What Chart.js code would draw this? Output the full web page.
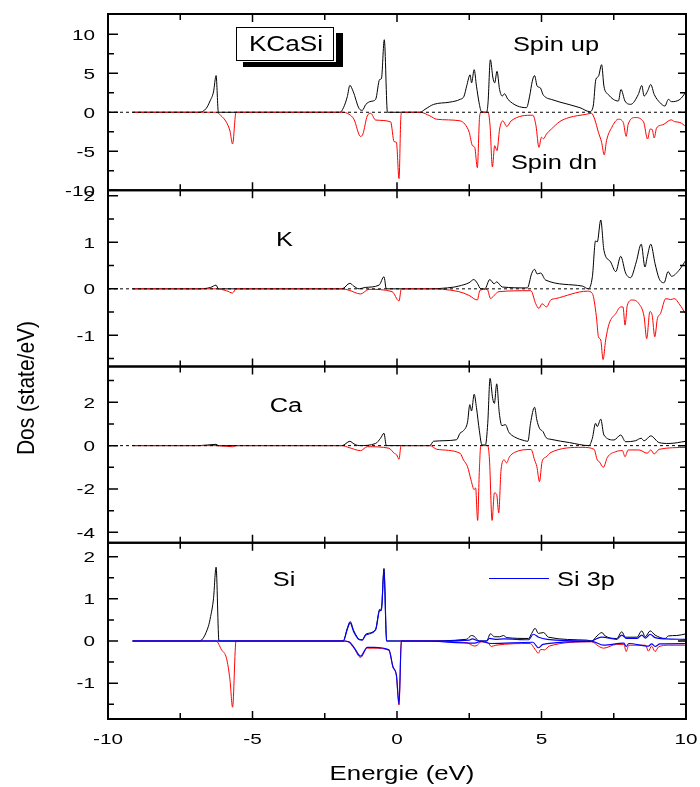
<!DOCTYPE html>
<html>
<head>
<meta charset="utf-8">
<title>KCaSi DOS</title>
<script src="https://cdn.jsdelivr.net/npm/chart.js@4.4.1/dist/chart.umd.min.js"></script>
<style>
  html, body { margin: 0; padding: 0; background: #fff; }
  #wrap { width: 700px; height: 787px; }
</style>
</head>
<body>
<div id="wrap"><canvas id="dos" width="700" height="787"></canvas></div>
<script>
// energy axis
const energyRange = [-10, 10];
const xMajorTicks = [-10, -5, 0, 5, 10];
const xMinorTicks = [-7.5, -2.5, 2.5, 7.5];

// y ranges and ticks per panel
const totalRange = [-10, 12.6];
const totalMajor = [-10, -5, 0, 5, 10];
const totalMinor = [-7.5, -2.5, 2.5, 7.5];
const kRange = [-1.67, 2.12];
const kMajor = [-1, 0, 1, 2];
const kMinor = [-1.5, -0.5, 0.5, 1.5];
const caRange = [-4.48, 3.65];
const caMajor = [-4, -2, 0, 2];
const caMinor = [-3, -1, 1, 3];
const siRange = [-1.85, 2.33];
const siMajor = [-1, 0, 1, 2];
const siMinor = [-1.5, -0.5, 0.5, 1.5];

// [energy (eV), DOS] pairs
const totalUp = [
  [-9.15, 0], [-6.84, 0], [-6.6, 0.5], [-6.47, 1.44], [-6.35, 2.6], [-6.26, 4.7], [-6.18, 0],
  [-1.97, 0], [-1.85, 0.6], [-1.72, 2.0], [-1.63, 3.45], [-1.52, 2.7], [-1.31, 0.47], [-1.2, 0.25],
  [-1.08, 1.0], [-0.9, 1.4], [-0.74, 1.65], [-0.6, 4.2], [-0.54, 4.3], [-0.44, 9.3], [-0.33, 0],
  [0.8, 0], [0.97, 0.38], [1.26, 1.0], [1.83, 1.3], [2.18, 1.65], [2.32, 2.07], [2.41, 3.35],
  [2.53, 4.8], [2.58, 3.77], [2.67, 5.46], [2.75, 3.35], [2.84, 1.23], [2.92, 0.08], [3.1, 0],
  [3.15, 1.23], [3.23, 6.73], [3.32, 4.4], [3.38, 3.77], [3.46, 5.25], [3.55, 2.92], [3.64, 2.07],
  [3.72, 2.37], [3.84, 1.65], [4.48, 0.59], [4.59, 2.07], [4.68, 3.98], [4.76, 4.7], [4.85, 3.35],
  [4.96, 3.13], [5.05, 2.29], [5.17, 1.86], [5.34, 1.65], [5.64, 1.3], [6.33, 0.59], [6.67, 0.08],
  [6.79, 0.8], [6.88, 4.2], [6.97, 4.6], [7.08, 6.1], [7.16, 3.35], [7.31, 2.29], [7.66, 1.44],
  [7.75, 2.92], [7.89, 1.44], [8.09, 1.02], [8.35, 2.29], [8.47, 3.43], [8.55, 2.07], [8.67, 2.71],
  [8.78, 3.56], [8.9, 2.29], [9.1, 1.23], [9.27, 0.8], [9.39, 1.65], [9.5, 1.36], [9.79, 1.65],
  [10, 2.6]
];
const totalDn = [
  [-9.15, 0], [-6.26, 0], [-6.1, -0.4], [-5.9, -1.3], [-5.78, -2.4], [-5.69, -4.07], [-5.57, 0],
  [-1.9, 0], [-1.66, -0.25], [-1.49, -0.9], [-1.26, -3.1], [-1.18, -2.8], [-1.03, -0.47],
  [-0.91, -0.13], [-0.74, -1.0], [-0.22, -1.23], [-0.1, -3.77], [-0.02, -3.86], [0.07, -8.5],
  [0.13, -0.9], [0.16, 0],
  [0.8, 0], [1.14, -0.47], [1.37, -0.89], [2.18, -1.1], [2.35, -1.53], [2.5, -2.58], [2.61, -4.28],
  [2.69, -4.5], [2.78, -7.1], [2.86, -0.47], [2.92, 0], [3.15, 0], [3.22, -1.74], [3.3, -7.0],
  [3.38, -4.28], [3.46, -4.92], [3.55, -2.16], [3.66, -1.1], [3.8, -1.82], [3.95, -1.1],
  [4.7, -0.38], [4.81, -1.74], [4.91, -4.5], [5.0, -3.2], [5.07, -3.4], [5.17, -2.8], [5.34, -2.16],
  [5.63, -1.2], [5.95, -0.68], [6.56, -0.25], [6.73, -0.13], [6.84, -0.89], [6.97, -2.58],
  [7.08, -3.85], [7.17, -5.46], [7.25, -3.64], [7.43, -1.95], [7.66, -0.89], [7.83, -1.31],
  [7.93, -3.09], [8.0, -1.53], [8.24, -0.68], [8.53, -1.23], [8.67, -3.43], [8.76, -2.16],
  [8.83, -2.2], [8.9, -3.3], [8.98, -2.03], [9.2, -1.6], [9.49, -0.97], [9.6, -1.2], [9.79, -1.31],
  [10, -1.85]
];

const kUp = [
  [-9.15, 0], [-6.84, 0], [-6.45, 0.03], [-6.26, 0.08], [-6.18, 0],
  [-1.9, 0], [-1.63, 0.12], [-1.5, 0.06], [-1.31, 0], [-1.1, 0.03], [-0.62, 0.08], [-0.45, 0.26],
  [-0.37, 0],
  [1.0, 0], [2.0, 0.04], [2.14, 0.06], [2.49, 0.13], [2.66, 0.2], [2.78, 0.12], [2.9, 0], [3.04, 0],
  [3.21, 0.2], [3.36, 0.11], [3.45, 0.15], [3.64, 0.04], [4.51, 0.02], [4.66, 0.33], [4.76, 0.42],
  [4.85, 0.32], [4.97, 0.34], [5.14, 0.19], [6.41, 0.06], [6.62, 0], [6.76, 0.26], [6.87, 1.03],
  [6.93, 1.01], [7.05, 1.48], [7.16, 0.83], [7.39, 0.58], [7.57, 0.37], [7.74, 0.7], [7.91, 0.34],
  [8.08, 0.24], [8.28, 0.58], [8.45, 0.96], [8.58, 0.47], [8.66, 0.69], [8.78, 0.96], [8.93, 0.54],
  [9.07, 0.22], [9.24, 0.13], [9.38, 0.37], [9.5, 0.27], [9.76, 0.4], [10, 0.62]
];
const kDn = [
  [-9.15, 0], [-6.26, 0], [-5.9, -0.04], [-5.69, -0.09], [-5.57, 0],
  [-1.9, 0], [-1.66, -0.03], [-1.26, -0.11], [-0.97, -0.01], [-0.17, -0.06], [0.07, -0.26],
  [0.15, 0],
  [1.0, 0], [2.14, -0.06], [2.49, -0.14], [2.78, -0.24], [2.87, -0.03], [3.12, -0.01], [3.24, -0.21],
  [3.36, -0.14], [3.53, -0.06], [4.63, -0.04], [4.8, -0.32], [4.91, -0.42], [5.02, -0.32],
  [5.17, -0.39], [5.32, -0.24], [5.49, -0.21], [6.59, -0.05], [6.76, -0.1], [6.9, -0.6],
  [6.97, -1.03], [7.05, -1.1], [7.13, -1.52], [7.22, -1.1], [7.34, -0.75], [7.57, -0.53],
  [7.74, -0.39], [7.82, -0.39], [7.89, -0.78], [7.97, -0.35], [8.14, -0.24], [8.37, -0.32],
  [8.55, -0.6], [8.64, -1.07], [8.75, -0.49], [8.83, -0.57], [8.92, -1.03], [9.01, -0.64],
  [9.12, -0.53], [9.3, -0.21], [9.47, -0.23], [9.6, -0.21], [9.76, -0.32], [10, -0.55]
];

const caUp = [
  [-9.15, 0], [-6.84, 0], [-6.26, 0.06], [-6.18, 0],
  [-1.9, 0], [-1.63, 0.2], [-1.49, 0.08], [-1.31, 0], [-0.74, 0.1], [-0.57, 0.34], [-0.45, 0.57],
  [-0.37, 0],
  [1.14, 0], [1.26, 0.2], [2.06, 0.27], [2.18, 0.57], [2.3, 0.69], [2.44, 1.08], [2.52, 1.89],
  [2.58, 1.6], [2.67, 2.37], [2.75, 1.75], [2.85, 0.69], [2.94, 0.03], [3.06, 0.03], [3.14, 1.03],
  [3.22, 3.1], [3.31, 2.18], [3.37, 1.95], [3.45, 2.85], [3.54, 1.5], [3.63, 0.92], [3.75, 0.97],
  [3.87, 0.62], [4.07, 0.4], [4.41, 0.23], [4.53, 0.2], [4.62, 1.03], [4.76, 1.77], [4.84, 1.18],
  [4.93, 0.8], [5.05, 0.65], [5.16, 0.37], [5.33, 0.29], [5.97, 0.14], [6.64, 0], [6.76, 0.34],
  [6.87, 1.03], [6.93, 0.88], [7.05, 1.22], [7.16, 0.49], [7.51, 0.26], [7.74, 0.49], [7.91, 0.18],
  [8.26, 0.23], [8.45, 0.34], [8.55, 0.22], [8.78, 0.45], [9.07, 0.14], [9.41, 0.1], [10, 0.2]
];
const caDn = [
  [-9.15, 0], [-6.26, 0], [-5.69, -0.05], [-5.57, 0],
  [-1.9, 0], [-1.66, -0.09], [-1.26, -0.23], [-1.03, -0.05], [-0.28, -0.12], [-0.1, -0.35],
  [-0.01, -0.43], [0.07, -0.63], [0.13, -0.05], [0.16, 0],
  [1.14, 0], [1.38, -0.17], [2.18, -0.35], [2.3, -0.66], [2.44, -0.97], [2.56, -1.58],
  [2.67, -2.03], [2.72, -1.95], [2.79, -3.45], [2.85, -1.12], [2.9, 0], [3.14, 0], [3.2, -0.66],
  [3.29, -3.45], [3.37, -2.18], [3.45, -2.26], [3.52, -3.1], [3.6, -1.12], [3.71, -0.66],
  [3.79, -0.8], [3.89, -0.52], [4.07, -0.31], [4.64, -0.18], [4.76, -0.66], [4.84, -0.97],
  [4.93, -1.66], [5.02, -0.74], [5.16, -0.52], [5.33, -0.31], [6.41, -0.08], [6.82, -0.17],
  [6.93, -0.66], [7.0, -0.74], [7.14, -1.0], [7.28, -0.54], [7.57, -0.28], [7.8, -0.23],
  [7.89, -0.51], [8.0, -0.2], [8.37, -0.2], [8.66, -0.35], [8.78, -0.2], [8.9, -0.38],
  [9.07, -0.17], [10, -0.08]
];

const siUp = [
  [-9.15, 0], [-6.84, 0], [-6.53, 0.34], [-6.45, 0.58], [-6.35, 1.0], [-6.26, 1.75], [-6.16, 0],
  [-1.86, 0], [-1.72, 0.3], [-1.62, 0.46], [-1.5, 0.25], [-1.3, 0.04], [-1.2, 0.03], [-1.08, 0.16],
  [-0.74, 0.28], [-0.6, 0.75], [-0.54, 0.76], [-0.45, 1.72], [-0.36, 0],
  [0.8, 0], [2.4, 0.04], [2.58, 0.13], [2.67, 0.11], [2.84, 0], [3.1, 0], [3.23, 0.17], [3.38, 0.1],
  [3.55, 0.1], [3.68, 0.13], [3.8, 0.08], [4.55, 0.06], [4.66, 0.18], [4.78, 0.3], [4.89, 0.18],
  [5.07, 0.2], [5.24, 0.09], [6.57, 0.02], [6.74, 0], [6.92, 0.12], [7.09, 0.2], [7.2, 0.12],
  [7.6, 0.06], [7.78, 0.22], [7.9, 0.09], [8.3, 0.09], [8.47, 0.24], [8.59, 0.1], [8.76, 0.24],
  [8.93, 0.14], [9.28, 0.06], [9.39, 0.12], [9.68, 0.13], [10, 0.17]
];
const siDn = [
  [-9.15, 0], [-6.26, 0], [-6.07, -0.21], [-5.9, -0.41], [-5.78, -0.92], [-5.69, -1.57], [-5.57, 0],
  [-1.86, 0], [-1.66, -0.03], [-1.49, -0.17], [-1.26, -0.39], [-1.03, -0.17], [-0.8, -0.17],
  [-0.28, -0.22], [-0.14, -0.62], [-0.02, -0.83], [0.07, -1.52], [0.15, 0],
  [0.8, 0], [2.4, -0.04], [2.69, -0.12], [2.78, -0.1], [2.9, -0.02], [3.16, -0.05], [3.26, -0.13],
  [3.42, -0.1], [4.61, -0.06], [4.78, -0.2], [4.89, -0.29], [4.97, -0.2], [5.1, -0.21],
  [5.27, -0.12], [6.74, -0.02], [6.97, -0.12], [7.15, -0.17], [7.6, -0.08], [7.85, -0.08],
  [7.93, -0.25], [8.02, -0.1], [8.6, -0.1], [8.7, -0.24], [8.81, -0.12], [8.93, -0.25],
  [9.05, -0.14], [9.4, -0.1], [10, -0.1]
];
const si3pUp = [
  [-9.15, 0], [-1.86, 0], [-1.72, 0.28], [-1.62, 0.43], [-1.5, 0.22], [-1.3, 0.03], [-1.2, 0.02],
  [-1.08, 0.14], [-0.74, 0.26], [-0.6, 0.72], [-0.54, 0.73], [-0.45, 1.7], [-0.36, 0],
  [0.8, 0], [2.5, 0.02], [2.6, 0.05], [2.84, 0], [3.1, 0], [3.2, 0.06], [3.4, 0.04], [3.7, 0.05],
  [4.55, 0.03], [4.72, 0.16], [4.9, 0.09], [5.2, 0.04], [6.74, 0], [6.92, 0.06], [7.09, 0.09],
  [7.6, 0.04], [7.78, 0.14], [7.95, 0.06], [8.3, 0.06], [8.47, 0.14], [8.6, 0.07], [8.76, 0.16],
  [8.93, 0.08], [9.3, 0.05], [10, 0.04]
];
const si3pDn = [
  [-9.15, 0], [-1.86, 0], [-1.66, -0.02], [-1.49, -0.15], [-1.26, -0.36], [-1.03, -0.15],
  [-0.8, -0.15], [-0.28, -0.21], [-0.14, -0.61], [-0.02, -0.81], [0.07, -1.49], [0.15, 0],
  [0.8, 0], [2.69, -0.05], [2.9, -0.01], [3.26, -0.06], [4.7, -0.03], [4.89, -0.16], [5.05, -0.08],
  [6.74, -0.01], [7.15, -0.1], [7.85, -0.05], [7.93, -0.13], [8.02, -0.06], [8.7, -0.12],
  [8.81, -0.07], [8.93, -0.13], [9.1, -0.07], [10, -0.06]
];

const FONT = '"Liberation Sans", Arial, Helvetica, sans-serif';

const panels = [
  { id: 'yTot', range: totalRange, major: totalMajor, minor: totalMinor, zero: true },
  { id: 'yK', range: kRange, major: kMajor, minor: kMinor, zero: true },
  { id: 'yCa', range: caRange, major: caMajor, minor: caMinor, zero: true },
  { id: 'ySi', range: siRange, major: siMajor, minor: siMinor, zero: false }
];

function toPoints(pairs) {
  return pairs.map(([x, y]) => ({ x, y }));
}

// draws text squeezed/stretched horizontally
function stretchText(ctx, text, x, y, size, sx, align) {
  ctx.save();
  ctx.translate(x, y);
  ctx.scale(sx, 1);
  ctx.font = size + 'px ' + FONT;
  ctx.textAlign = align || 'center';
  ctx.textBaseline = 'alphabetic';
  ctx.fillStyle = '#000';
  ctx.fillText(text, 0, 0);
  ctx.restore();
}

function line(data, yAxisID, color, order, width) {
  return {
    data: toPoints(data),
    yAxisID: yAxisID,
    borderColor: color,
    borderWidth: width || 1,
    pointRadius: 0,
    fill: false,
    cubicInterpolationMode: 'monotone',
    order: order
  };
}

const datasets = [
  line(totalUp, 'yTot', '#000000', 3),
  line(totalDn, 'yTot', '#ff0000', 2),
  line(kUp, 'yK', '#000000', 3),
  line(kDn, 'yK', '#ff0000', 2),
  line(caUp, 'yCa', '#000000', 3),
  line(caDn, 'yCa', '#ff0000', 2),
  line(siUp, 'ySi', '#000000', 3),
  line(siDn, 'ySi', '#ff0000', 2),
  line(si3pUp, 'ySi', '#0000ff', 1, 1.2),
  line(si3pDn, 'ySi', '#0000ff', 1, 1.2)
];

// dashed zero line in the first three panels
panels.filter(p => p.zero).forEach(p => {
  datasets.push({
    data: [{ x: energyRange[0], y: 0 }, { x: energyRange[1], y: 0 }],
    yAxisID: p.id,
    borderColor: '#000000',
    borderWidth: 1,
    borderDash: [3, 3],
    pointRadius: 0,
    order: 0
  });
});

const scales = {
  x: {
    type: 'linear',
    min: energyRange[0],
    max: energyRange[1],
    grid: { display: false, drawTicks: false },
    border: { display: false },
    ticks: { display: false },
    afterFit: (scale) => { scale.height = 68; }
  }
};
panels.forEach((p, i) => {
  scales[p.id] = {
    type: 'linear',
    position: 'left',
    stack: 'dos',
    stackWeight: 1,
    weight: panels.length - i,
    min: p.range[0],
    max: p.range[1],
    grid: { display: false, drawTicks: false },
    border: { display: false },
    ticks: { display: false },
    afterFit: (scale) => { scale.width = 108; }
  };
});

const framePlugin = {
  id: 'frames',
  afterDatasetsDraw(chart) {
    const ctx = chart.ctx;
    const xs = chart.scales.x;
    const left = xs.left;
    const right = xs.right;
    ctx.save();
    ctx.strokeStyle = '#000';

    panels.forEach(p => {
      const ys = chart.scales[p.id];
      const top = ys.top;
      const bottom = ys.bottom;

      ctx.lineWidth = 1.5;
      ctx.beginPath();
      xMajorTicks.forEach(v => {
        const px = xs.getPixelForValue(v);
        ctx.moveTo(px, top); ctx.lineTo(px, top + 8);
        ctx.moveTo(px, bottom); ctx.lineTo(px, bottom - 8);
      });
      xMinorTicks.forEach(v => {
        const px = xs.getPixelForValue(v);
        ctx.moveTo(px, top); ctx.lineTo(px, top + 6);
        ctx.moveTo(px, bottom); ctx.lineTo(px, bottom - 6);
      });
      p.major.forEach(v => {
        const py = ys.getPixelForValue(v);
        ctx.moveTo(left, py); ctx.lineTo(left + 10, py);
        ctx.moveTo(right, py); ctx.lineTo(right - 8, py);
      });
      p.minor.forEach(v => {
        const py = ys.getPixelForValue(v);
        ctx.moveTo(left, py); ctx.lineTo(left + 6, py);
        ctx.moveTo(right, py); ctx.lineTo(right - 6, py);
      });
      ctx.stroke();

      ctx.lineWidth = 2;
      ctx.strokeRect(left, top, right - left, bottom - top);

      p.major.forEach(v => {
        stretchText(ctx, String(v), left - 13, ys.getPixelForValue(v) + 5.3, 15, 1.38, 'right');
      });
    });

    xMajorTicks.forEach(v => {
      stretchText(ctx, String(v), xs.getPixelForValue(v), 743.5, 15, 1.38, 'center');
    });

    // axis titles
    stretchText(ctx, 'Energie (eV)', 402, 780, 20, 1.29, 'center');
    ctx.save();
    ctx.translate(34, 388);
    ctx.rotate(-Math.PI / 2);
    ctx.scale(1.05, 1.2);
    ctx.font = '20px ' + FONT;
    ctx.textAlign = 'center';
    ctx.textBaseline = 'alphabetic';
    ctx.fillStyle = '#000';
    ctx.fillText('Dos (state/eV)', 0, 0);
    ctx.restore();

    // compound name box with drop shadow
    ctx.fillStyle = '#000';
    ctx.fillRect(243, 33, 100, 34);
    ctx.fillStyle = '#fff';
    ctx.fillRect(235, 26, 101, 36);
    ctx.lineWidth = 1;
    ctx.strokeRect(236.5, 27.5, 97, 33);
    stretchText(ctx, 'KCaSi', 286, 51, 22, 1.19, 'center');

    stretchText(ctx, 'Spin up', 556, 51, 20, 1.27, 'center');
    stretchText(ctx, 'Spin dn', 554, 168.5, 20, 1.27, 'center');
    stretchText(ctx, 'K', 284.5, 246, 20, 1.27, 'center');
    stretchText(ctx, 'Ca', 286, 412, 20, 1.27, 'center');
    stretchText(ctx, 'Si', 284, 586, 20, 1.27, 'center');

    // legend for the Si 3p curve
    ctx.strokeStyle = '#0000ff';
    ctx.lineWidth = 1.2;
    ctx.beginPath();
    ctx.moveTo(489, 578.5);
    ctx.lineTo(549, 578.5);
    ctx.stroke();
    stretchText(ctx, 'Si 3p', 557, 586, 20, 1.27, 'left');

    ctx.restore();
  }
};

new Chart(document.getElementById('dos'), {
  type: 'line',
  data: { datasets: datasets },
  options: {
    responsive: false,
    animation: false,
    devicePixelRatio: 1,
    layout: { padding: { left: 0, right: 14, top: 14, bottom: 0 } },
    plugins: {
      legend: { display: false },
      tooltip: { enabled: false }
    },
    scales: scales
  },
  plugins: [framePlugin]
});
</script>
</body>
</html>
